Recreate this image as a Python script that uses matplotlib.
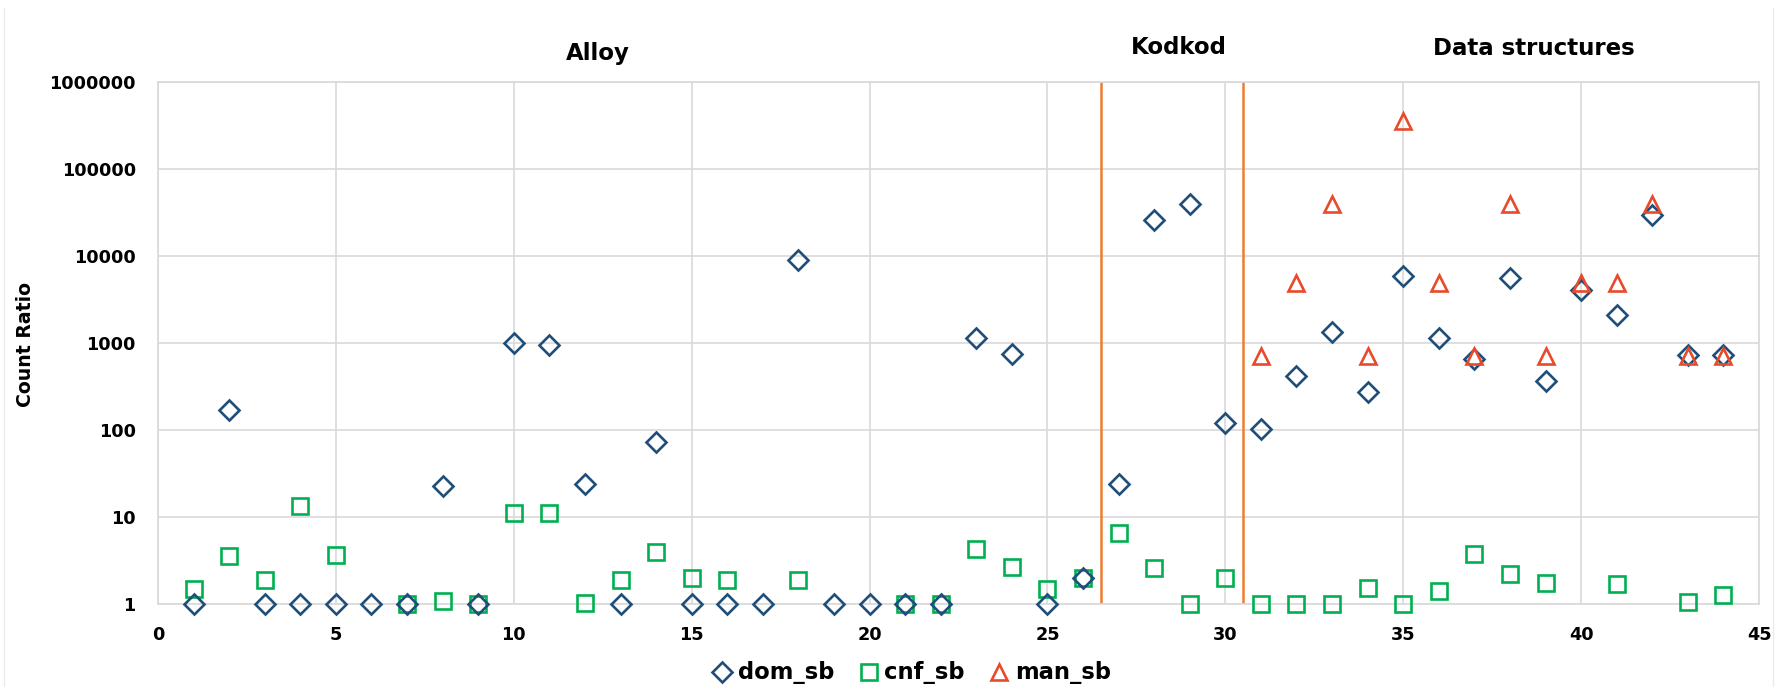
import matplotlib.pyplot as plt
from matplotlib.lines import Line2D
import numpy as np

nan = np.nan

# benchmark index 1..44
bench = list(range(1, 45))

dom_sb = [1, 170, 1, 1, 1, 1, 1, 23, 1, 1000,
          950, 24, 1, 72, 1, 1, 1, 9100, 1, 1,
          1, 1, 1150, 750, 1, 2, 24, 26000, 40000, 120,
          103, 420, 1340, 270, 5900, 1150, 650, 5650, 370, 4050,
          2100, 29500, 720, 720]

cnf_sb = [1.47, 3.6, 1.9, 13.4, 3.65, nan, 1, 1.07, 1, 11.2,
          11.2, 1.03, 1.9, 4.0, 2.0, 1.9, nan, 1.9, nan, nan,
          1, 1, 4.3, 2.68, 1.5, 2.0, 6.6, 2.57, 1, 2.0,
          1, 1, 1, 1.54, 1, 1.41, 3.8, 2.21, 1.74, nan,
          1.71, nan, 1.06, 1.26]

man_sb = [nan] * 30 + [710, 4900, 40000, 710, 356000, 4900, 710, 40000, 710, 4900,
                       4900, 40000, 710, 710]

separators = [26.5, 30.5]
groups = ['Alloy', 'Kodkod', 'Data structures']
group_x = [12.36, 28.69, 38.66]
group_base_px = [60, 54, 55]   # baseline, pixels from top of figure

c_dom = '#1F4E79'
c_cnf = '#00B050'
c_man = '#E84A2C'
c_sep = '#ED7D31'
c_grid = '#D9D9D9'

W, H = 1784, 687
plt.rcParams['font.family'] = ['DejaVu Sans']
plt.rcParams['font.weight'] = 'bold'

fig = plt.figure(figsize=(W / 100, H / 100), dpi=100)
ax = fig.add_axes([158 / W, 1 - 604 / H, (1759 - 158) / W, (604 - 82) / H])

ax.set_yscale('log')
ax.set_xlim(0, 45)
ax.set_ylim(1, 1e6)

ax.vlines(separators, 1, 1e6, color=c_sep, lw=1.8, zorder=2)

mk = dict(linestyle='none', mfc='none', mew=1.9, clip_on=False)
ax.plot(bench, dom_sb, marker='D', ms=10, mec=c_dom, zorder=4, **mk)
ax.plot(bench, cnf_sb, marker='s', ms=11.5, mec=c_cnf, zorder=3, **mk)
ax.plot(bench, man_sb, marker='^', ms=12, mec=c_man, zorder=5, **mk)

ax.set_xticks(range(0, 46, 5))
ax.set_yticks([10 ** k for k in range(7)])
ax.set_yticklabels([str(10 ** k) for k in range(7)])
ax.minorticks_off()
ax.tick_params(length=0, labelsize=12.7, pad=16, labelcolor='black')
for lab in ax.get_xticklabels() + ax.get_yticklabels():
    lab.set_fontweight('bold')

ax.grid(True, color=c_grid, lw=1.2, zorder=0)
ax.set_axisbelow(True)
for s in ax.spines.values():
    s.set_color(c_grid)
    s.set_linewidth(1.2)

fig.text(26 / W, 1 - 345 / H, 'Count Ratio', rotation=90, ha='center', va='center',
         fontsize=13.6, fontweight='bold')

for name, gx, gb in zip(groups, group_x, group_base_px):
    fig.text((158 + gx * (1759 - 158) / 45) / W, 1 - gb / H, name,
             ha='center', va='baseline', fontsize=16.5, fontweight='bold')

# faint chart-area border
fig.add_artist(Line2D([4 / W, 4 / W], [0, 1 - 8 / H], color='#EBEBEB', lw=1))
fig.add_artist(Line2D([1773 / W, 1773 / W], [0, 1 - 8 / H], color='#EBEBEB', lw=1))

handles = [
    Line2D([], [], marker='D', ms=10, mec=c_dom, **mk),
    Line2D([], [], marker='s', ms=11.5, mec=c_cnf, **mk),
    Line2D([], [], marker='^', ms=12, mec=c_man, **mk),
]
fig.legend(handles, ['dom_sb', 'cnf_sb', 'man_sb'], loc='center',
           bbox_to_anchor=(912 / W, 1 - 673 / H), ncol=3, frameon=False,
           handlelength=0.8, handletextpad=0.3, columnspacing=1.1,
           prop={'weight': 'bold', 'size': 16.3})

fig.savefig('out.png', dpi=100)
